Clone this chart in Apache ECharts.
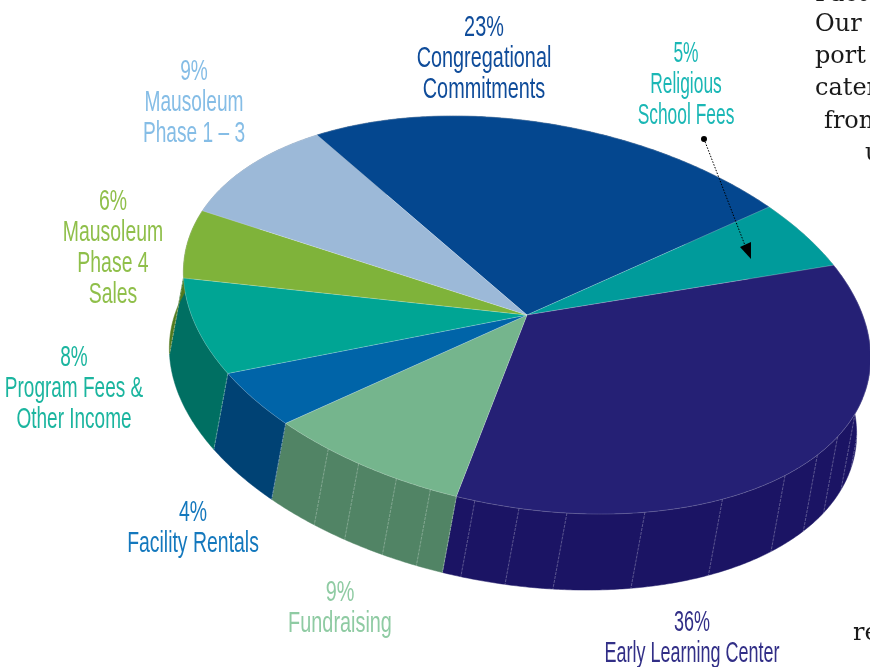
<!DOCTYPE html>
<html>
<head>
<meta charset="utf-8">
<title>Revenue sources</title>
<style>
html, body { margin: 0; padding: 0; background: #fff; overflow: hidden; }
#chart { width: 870px; height: 667px; }
</style>
<script src="https://cdn.jsdelivr.net/npm/echarts@6/dist/echarts.min.js"></script>
</head>
<body>
<div id="chart"></div>
<script>
// 数据：顺时针，从 Congregational Commitments 开始（按图上扇区估读，标签取整）
var names = ['Congregational\nCommitments', 'Religious\nSchool Fees', 'Early Learning Center', 'Fundraising', 'Facility Rentals', 'Program Fees &\nOther Income', 'Mausoleum\nPhase 4\nSales', 'Mausoleum\nPhase 1 – 3'];
var values = [22.9, 5.1, 35.76, 9.1, 4.42, 7.72, 5.8, 9.2];
var topColors = ['#04478f', '#009b9b', '#252075', '#75b58d', '#0064a8', '#00a594', '#7fb33a', '#9cb9d8'];
var wallColors = ['#033368', '#007272', '#1b1464', '#518465', '#004274', '#006f62', '#527a1f', '#6f8aa8'];
var labelColors = ['#0f4c9a', '#1ab7b5', '#322f87', '#8fcba3', '#1478bd', '#1bb59f', '#8fbf4a', '#85bde6'];

// 3D 饼图的投影参数
var center = [527, 315];
var axisU = [-210, -180];
var axisV = [272, -85];
var depth = [-14, 76];
var labelPos = [[484, 58], [686, 84], [692, 637], [340, 607], [193, 527], [74, 388], [113, 247], [194, 102]];
var labelScale = [0.685, 0.6, 0.62, 0.685, 0.67, 0.655, 0.67, 0.66];
var facetAngles = [138, 145, 153, 160, 169, 183, 197.6, 211, 219, 226.4, 234, 240, 247, 253];

var total = values.reduce((a, b) => a + b, 0);
var sum = 0;
var slices = values.map((v, i) => {
    var from = sum / total * 360;
    sum += v;
    return [i, from, sum / total * 360];
});

var project = (deg, offset) => {
    var r = deg * Math.PI / 180;
    var c = Math.cos(r), s = Math.sin(r);
    var o = offset ? depth : [0, 0];
    return [center[0] + axisU[0] * c + axisV[0] * s + o[0], center[1] + axisU[1] * c + axisV[1] * s + o[1]];
};

var arc = (from, to, offset) => {
    var pts = [];
    var n = Math.ceil((to - from) * 2);
    for (var k = 0; k <= n; k++) {
        pts.push(project(from + (to - from) * k / n, offset));
    }
    return pts;
};

var renderWall = (params, api) => {
    var i = api.value(0), from = api.value(1), to = api.value(2);
    var children = [{
        type: 'polygon',
        shape: { points: arc(from, to, false).concat(arc(from, to, true).reverse()) },
        style: { fill: wallColors[i], stroke: wallColors[i], lineWidth: 0.5 }
    }];
    // 侧面的分割线
    facetAngles.concat([from, to]).filter(a => a >= from && a <= to).forEach(a => {
        var p = project(a, false), q = project(a, true);
        children.push({
            type: 'line',
            shape: { x1: p[0], y1: p[1], x2: q[0], y2: q[1] },
            style: { stroke: 'rgba(255,255,255,0.4)', lineWidth: 0.7, lineDash: [3, 1] }
        });
    });
    return { type: 'group', children: children };
};

var renderTop = (params, api) => {
    var i = api.value(0), from = api.value(1), to = api.value(2);
    return {
        type: 'polygon',
        shape: { points: [center].concat(arc(from, to, false)) },
        style: { fill: topColors[i], stroke: 'rgba(255,255,255,0.3)', lineWidth: 0.6 }
    };
};

// 文字标注
var fontNarrow = '"Liberation Sans", sans-serif';
var labelGraphics = names.map((name, i) => ({
    type: 'text',
    x: labelPos[i][0],
    y: labelPos[i][1] + 1,
    scaleX: labelScale[i],
    style: {
        text: Math.round(values[i]) + '%\n' + name,
        fill: labelColors[i],
        font: '29px ' + fontNarrow,
        lineHeight: 31,
        align: 'center',
        verticalAlign: 'middle'
    }
}));

// 右侧被裁掉的正文
var bodyText = [['Fact', 815, -7], ['Our', 815, 23], ['port', 815, 55], ['cater', 815, 87], ['from', 824, 120], ['u', 865, 152], ['re', 853, 632]];
var bodyGraphics = bodyText.map(t => ({
    type: 'text',
    x: t[1],
    y: t[2] + 2,
    style: { text: t[0], fill: '#1a1a1a', font: '24px "DejaVu Serif", serif', align: 'left', verticalAlign: 'middle' }
}));

// 5% 的引线
var arrowGraphics = [
    { type: 'circle', shape: { cx: 704, cy: 139, r: 3 }, style: { fill: '#000' } },
    { type: 'line', shape: { x1: 704, y1: 139, x2: 746, y2: 248 }, style: { stroke: '#000', lineWidth: 1, lineDash: [1.5, 1.5] } },
    { type: 'polygon', shape: { points: [[751, 259], [740, 247], [751, 242]] }, style: { fill: '#000' } }
];

var option = {
    animation: false,
    graphic: { elements: labelGraphics.concat(bodyGraphics, arrowGraphics).map(g => Object.assign({ z: 10, silent: true }, g)) },
    series: [{
        type: 'custom',
        coordinateSystem: 'none',
        renderItem: renderWall,
        data: slices,
        silent: true,
        z: 1
    }, {
        type: 'custom',
        coordinateSystem: 'none',
        renderItem: renderTop,
        data: slices,
        silent: true,
        z: 2
    }]
};

var myChart = echarts.init(document.getElementById('chart'));
myChart.setOption(option);
</script>
</body>
</html>
